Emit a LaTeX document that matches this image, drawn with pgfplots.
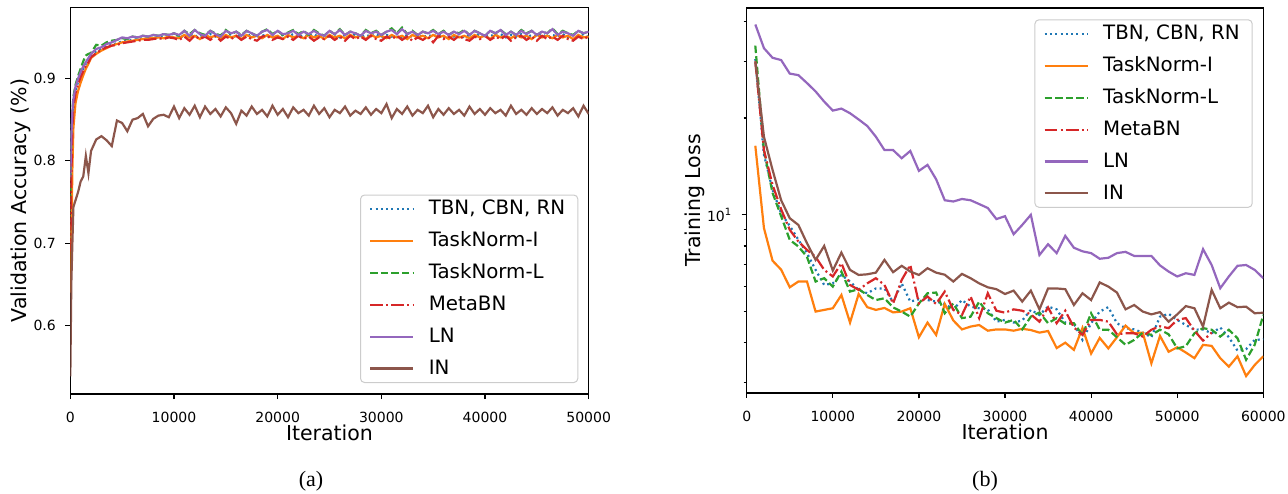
\documentclass[border=0pt]{standalone}
\usepackage{fontspec}
\setmainfont{DejaVu Sans}
\newfontfamily\capfont{Liberation Serif}
\usepackage{pgfplots}
\pgfplotsset{compat=1.18}
\usepackage{pgfplotstable}

\definecolor{tabblue}{HTML}{1F77B4}
\definecolor{taborange}{HTML}{FF7F0E}
\definecolor{tabgreen}{HTML}{2CA02C}
\definecolor{tabred}{HTML}{D62728}
\definecolor{tabpurple}{HTML}{9467BD}
\definecolor{tabbrown}{HTML}{8C564B}

\newcommand\lstrut{\rule[-0.25em]{0pt}{1em}}

% (a) validation accuracy
\pgfplotstableread{
it tbn tni tnl meta ln inn
0 0.700 0.640 0.750 0.690 0.780 0.538
100 0.800 0.700 0.830 0.780 0.830 0.652
200 0.845 0.790 0.860 0.840 0.860 0.700
300 0.868 0.840 0.878 0.865 0.875 0.744
500 0.885 0.870 0.892 0.882 0.890 0.752
750 0.896 0.885 0.903 0.893 0.900 0.762
1000 0.905 0.895 0.912 0.902 0.908 0.775
1250 0.912 0.904 0.921 0.909 0.915 0.781
1500 0.918 0.912 0.928 0.916 0.920 0.806
1750 0.923 0.918 0.930 0.920 0.925 0.785
2000 0.928 0.925 0.931 0.926 0.930 0.812
2500 0.933 0.930 0.941 0.931 0.936 0.826
3000 0.936 0.934 0.940 0.935 0.938 0.830
3500 0.939 0.937 0.944 0.938 0.942 0.825
4000 0.941 0.940 0.946 0.940 0.944 0.818
4500 0.943 0.942 0.947 0.941 0.947 0.849
5000 0.945 0.944 0.949 0.943 0.950 0.846
5500 0.946 0.945 0.948 0.944 0.949 0.836
6000 0.947 0.946 0.951 0.945 0.951 0.850
6500 0.948 0.947 0.950 0.946 0.950 0.852
7000 0.949 0.948 0.952 0.947 0.952 0.857
7500 0.948 0.949 0.951 0.947 0.951 0.842
8000 0.950 0.949 0.953 0.948 0.953 0.851
8500 0.950 0.950 0.952 0.949 0.952 0.855
9000 0.951 0.949 0.954 0.948 0.954 0.856
9500 0.950 0.951 0.953 0.950 0.953 0.853
10000 0.951 0.950 0.955 0.949 0.955 0.866
10500 .953 .949 .952 .947 .953 .852
11000 .950 .953 .958 .951 .958 .864
11500 .954 .950 .954 .946 .952 .856
12000 .951 .952 .959 .952 .959 .867
12500 .953 .948 .955 .948 .954 .853
13000 .950 .953 .953 .951 .952 .866
13500 .954 .950 .958 .947 .958 .857
14000 .951 .952 .955 .952 .954 .863
14500 .953 .949 .952 .946 .951 .854
15000 .951 .953 .959 .951 .958 .865
15500 .954 .950 .954 .948 .955 .858
16000 .950 .952 .957 .952 .957 .845
16500 .953 .948 .953 .947 .952 .861
17000 .951 .953 .958 .951 .958 .855
17500 .954 .950 .955 .948 .955 .866
18000 .950 .952 .952 .946 .952 .857
18500 .953 .949 .957 .951 .957 .862
19000 .951 .953 .960 .952 .959 .854
19500 .954 .950 .954 .947 .953 .867
20000 .950 .952 .958 .950 .958 .856
20500 .953 .948 .953 .948 .954 .863
21000 .951 .953 .956 .951 .955 .853
21500 .954 .950 .959 .947 .958 .865
22000 .950 .952 .954 .952 .953 .858
22500 .953 .949 .958 .948 .957 .862
23000 .951 .953 .953 .951 .954 .855
23500 .954 .950 .959 .946 .958 .867
24000 .950 .952 .955 .950 .954 .857
24500 .953 .948 .952 .948 .952 .864
25000 .951 .953 .958 .952 .958 .853
25500 .954 .950 .954 .947 .954 .862
26000 .950 .952 .960 .951 .959 .858
26500 .953 .949 .953 .946 .953 .866
27000 .951 .953 .957 .952 .957 .855
27500 .954 .950 .955 .948 .955 .861
28000 .950 .952 .952 .951 .952 .857
28500 .953 .948 .959 .947 .958 .865
29000 .951 .953 .955 .952 .955 .856
29500 .954 .950 .958 .948 .957 .863
30000 .950 .952 .953 .946 .953 .858
30500 .953 .949 .957 .951 .957 .869
31000 .951 .953 .961 .948 .959 .852
31500 .954 .950 .955 .952 .954 .863
32000 .950 .952 .962 .947 .960 .857
32500 .953 .948 .954 .951 .954 .866
33000 .951 .953 .958 .946 .957 .855
33500 .954 .950 .953 .950 .953 .862
34000 .950 .952 .957 .947 .957 .858
34500 .953 .949 .955 .951 .955 .867
35000 .951 .953 .959 .944 .958 .853
35500 .954 .950 .954 .952 .954 .863
36000 .950 .952 .958 .948 .957 .856
36500 .953 .948 .953 .951 .953 .864
37000 .951 .953 .957 .947 .957 .857
37500 .954 .950 .955 .952 .954 .862
38000 .950 .952 .959 .948 .958 .855
38500 .953 .949 .953 .946 .953 .866
39000 .951 .953 .958 .951 .958 .857
39500 .954 .950 .955 .948 .955 .863
40000 .950 .952 .952 .952 .952 .856
40500 .953 .948 .958 .947 .958 .864
41000 .951 .953 .955 .951 .955 .858
41500 .954 .950 .959 .948 .959 .862
42000 .950 .952 .954 .952 .953 .855
42500 .953 .949 .957 .946 .957 .867
43000 .951 .953 .953 .950 .953 .857
43500 .954 .950 .959 .952 .958 .862
44000 .950 .952 .955 .947 .954 .856
44500 .953 .948 .958 .951 .958 .864
45000 .951 .953 .953 .946 .953 .857
45500 .954 .950 .957 .952 .957 .863
46000 .950 .952 .955 .948 .955 .858
46500 .953 .949 .961 .951 .960 .865
47000 .951 .953 .954 .947 .953 .855
47500 .954 .950 .958 .952 .957 .862
48000 .950 .952 .955 .948 .955 .858
48500 .953 .948 .953 .946 .952 .864
49000 .951 .953 .958 .951 .958 .854
49500 .954 .950 .955 .948 .955 .867
50000 .950 .951 .957 .951 .957 .857
}\accdata

% (b) training loss, meta stops at 54000
\pgfplotstableread{
it tbn tni tnl meta ln inn
1000 30.5 16.4 33.6 30.0 39.1 30.0
2000 15.4 9.1 15.9 15.9 33.0 17.5
3000 11.96 7.2 11.7 12.4 30.8 13.8
4000 10.1 6.75 9.9 10.4 30.3 11.1
5000 9.24 5.95 8.36 8.98 27.5 9.76
6000 8.36 6.2 7.97 8.26 27.2 9.3
7000 7.6 6.2 7.4 7.78 25.7 8.16
8000 6.74 5.0 6.2 7.4 24.2 7.24
9000 6.05 5.06 6.35 6.74 22.5 8.0
10000 6.12 5.12 5.98 6.43 21.1 6.71
11000 6.5 5.63 6.66 7.07 21.4 7.63
12000 6.2 4.62 5.77 6.05 20.7 6.74
13000 5.84 5.67 5.87 5.84 19.8 6.5
14000 5.7 5.16 5.63 6.12 18.9 6.53
15000 5.9 5.06 5.43 6.35 17.5 6.61
16000 5.9 5.13 5.5 6.05 15.9 7.24
17000 5.35 4.97 5.15 5.3 15.9 6.63
18000 6.12 5.0 5.0 6.27 15.0 6.94
19000 5.37 5.12 4.82 6.98 15.8 6.66
20000 5.46 4.16 5.3 5.3 13.7 6.5
21000 5.43 4.62 5.7 5.57 14.3 6.82
22000 5.37 4.23 5.73 5.28 12.9 6.61
23000 5.28 5.28 4.94 5.77 11.1 6.51
24000 5.08 4.69 5.3 5.06 11.0 6.2
25000 5.43 4.40 4.77 4.88 11.2 6.55
26000 5.18 4.49 4.82 5.57 11.1 6.35
27000 5.12 4.54 5.37 4.77 10.8 6.12
28000 5.08 4.36 4.94 5.7 10.5 5.95
29000 4.65 4.40 4.77 5.03 9.7 5.87
30000 4.71 4.40 4.62 4.96 9.9 5.67
31000 4.62 4.36 4.71 5.08 8.7 5.81
32000 4.69 4.42 4.40 5.03 9.3 5.37
33000 5.06 4.38 4.82 4.9 10.0 5.81
34000 4.88 4.30 4.97 4.65 7.5 5.08
35000 5.18 4.35 4.6 5.15 8.1 5.9
36000 5.08 3.85 4.77 4.6 7.6 5.9
37000 4.62 4.0 4.58 5.03 8.6 5.87
38000 4.58 3.8 4.6 4.46 7.9 5.24
39000 4.08 4.45 4.23 4.23 7.7 5.7
40000 4.6 3.7 4.94 4.71 7.6 5.43
41000 5.0 4.14 4.39 4.71 7.3 6.16
42000 5.16 3.84 4.39 4.65 7.35 5.98
43000 4.6 4.16 4.16 4.25 7.6 5.73
44000 4.44 4.52 3.94 4.28 7.67 5.08
45000 4.4 4.28 4.08 4.28 7.45 5.24
46000 4.3 4.30 4.3 4.18 7.45 5.0
47000 4.16 3.45 4.23 4.39 7.45 4.9
48000 4.82 4.2 4.39 4.5 6.96 4.98
49000 4.92 3.75 4.25 4.44 6.66 4.65
50000 4.71 3.87 3.84 4.71 6.43 4.9
51000 4.54 3.73 3.9 4.77 6.58 5.2
52000 4.39 3.58 4.28 4.36 6.5 5.12
53000 4.4 3.94 4.44 4.06 7.82 4.49
54000 4.28 3.91 4.39 4.3 6.98 5.84
55000 4.46 3.58 4.18 nan 5.91 5.12
56000 4.16 3.37 4.39 nan 6.43 5.33
57000 3.78 3.63 4.13 nan 6.94 5.16
58000 3.82 3.15 3.54 nan 6.98 5.18
59000 4.08 3.41 3.94 nan 6.74 4.94
60000 4.1 3.63 4.88 nan 6.35 4.96
}\lossdata

\pgfplotsset{
  mplstyle/.style={
    scale only axis,
    axis line style={line width=0.6pt},
    every tick/.style={black, line width=0.6pt},
    tick align=outside, tick pos=left,
    major tick length=2.5pt, minor tick length=1.5pt,
    ticklabel style={font=\fontsize{7}{8}\selectfont},
    xticklabel style={yshift=-3.2pt},
    yticklabel style={xshift=-1.2pt},
    /pgf/number format/assume math mode=true,
    /pgf/number format/1000 sep={},
    scaled x ticks=false,
    label style={font=\fontsize{10.25}{12}\selectfont},
    xmin=0,
    xtick={0,10000,...,60000},
    legend cell align=left,
    legend style={font=\fontsize{9.9}{11}\selectfont,
      draw=black!20, line width=0.5pt, rounded corners=2pt,
      fill=white, fill opacity=0.8, text opacity=1,
      inner xsep=4.3pt, inner ysep=2.5pt,
      nodes={inner ysep=0pt}, row sep=7pt},
    legend image code/.code={\draw[##1] (0pt,0pt) -- (21.5pt,0pt); \path (26.7pt,0pt);},
    cycle list={
      {tabblue, line width=1.1pt, dash pattern=on 1pt off 1.65pt},
      {taborange, line width=1.1pt},
      {tabgreen, line width=1.1pt, dash pattern=on 3.7pt off 1.6pt},
      {tabred, line width=1.1pt, dash pattern=on 6.4pt off 1.6pt on 1pt off 1.6pt},
      {tabpurple, line width=1.1pt},
      {tabbrown, line width=1.1pt}},
  },
}

\begin{document}
\begin{tikzpicture}
\path[use as bounding box] (0pt,0pt) rectangle (644pt,246.5pt);

\begin{axis}[mplstyle,
  at={(35.15pt,49.5pt)}, anchor=south west,
  width=259.2pt, height=193.35pt,
  xmax=50000, ymin=0.5167, ymax=0.9866,
  ytick={0.6,0.7,0.8,0.9},
  xlabel={Iteration},
  xlabel style={at={(axis description cs:0.5,-0.119)}, anchor=base},
  ylabel={Validation Accuracy (\%)},
  ylabel style={at={(axis description cs:-0.0841,0.5)}, anchor=base},
  legend style={at={(0.980,0.0284)}, anchor=south east},
]
\addplot table[x=it,y=tbn] {\accdata};
\addlegendentry{\lstrut TBN, CBN, RN}
\addplot table[x=it,y=tni] {\accdata};
\addlegendentry{\lstrut TaskNorm-I}
\addplot table[x=it,y=tnl] {\accdata};
\addlegendentry{\lstrut TaskNorm-L}
\addplot table[x=it,y=meta] {\accdata};
\addlegendentry{\lstrut MetaBN}
\addplot table[x=it,y=ln] {\accdata};
\addlegendentry{\lstrut LN}
\addplot table[x=it,y=inn] {\accdata};
\addlegendentry{\lstrut IN}
\end{axis}

\begin{axis}[mplstyle,
  at={(373.35pt,50pt)}, anchor=south west,
  width=258.3pt, height=192.5pt,
  xmax=60000, ymode=log, ymin=2.79, ymax=44,
  ytick={10}, yticklabels={10\textsuperscript{1}},
  minor ytick={3,4,5,6,7,8,9,20,30,40},
  xlabel={Iteration},
  xlabel style={at={(axis description cs:0.5,-0.122)}, anchor=base},
  ylabel={Training Loss},
  ylabel style={at={(axis description cs:-0.0904,0.5)}, anchor=base},
  legend style={at={(0.9795,0.9706)}, anchor=north east},
]
\addplot table[x=it,y=tbn] {\lossdata};
\addlegendentry{\lstrut TBN, CBN, RN}
\addplot table[x=it,y=tni] {\lossdata};
\addlegendentry{\lstrut TaskNorm-I}
\addplot table[x=it,y=tnl] {\lossdata};
\addlegendentry{\lstrut TaskNorm-L}
\addplot table[x=it,y=meta] {\lossdata};
\addlegendentry{\lstrut MetaBN}
\addplot table[x=it,y=ln] {\lossdata};
\addlegendentry{\lstrut LN}
\addplot table[x=it,y=inn] {\lossdata};
\addlegendentry{\lstrut IN}
\end{axis}

\node[font=\capfont\fontsize{11}{13}\selectfont, anchor=base] at (155.5pt,3.5pt) {(a)};
\node[font=\capfont\fontsize{11}{13}\selectfont, anchor=base] at (492.5pt,3.5pt) {(b)};
\end{tikzpicture}
\end{document}
